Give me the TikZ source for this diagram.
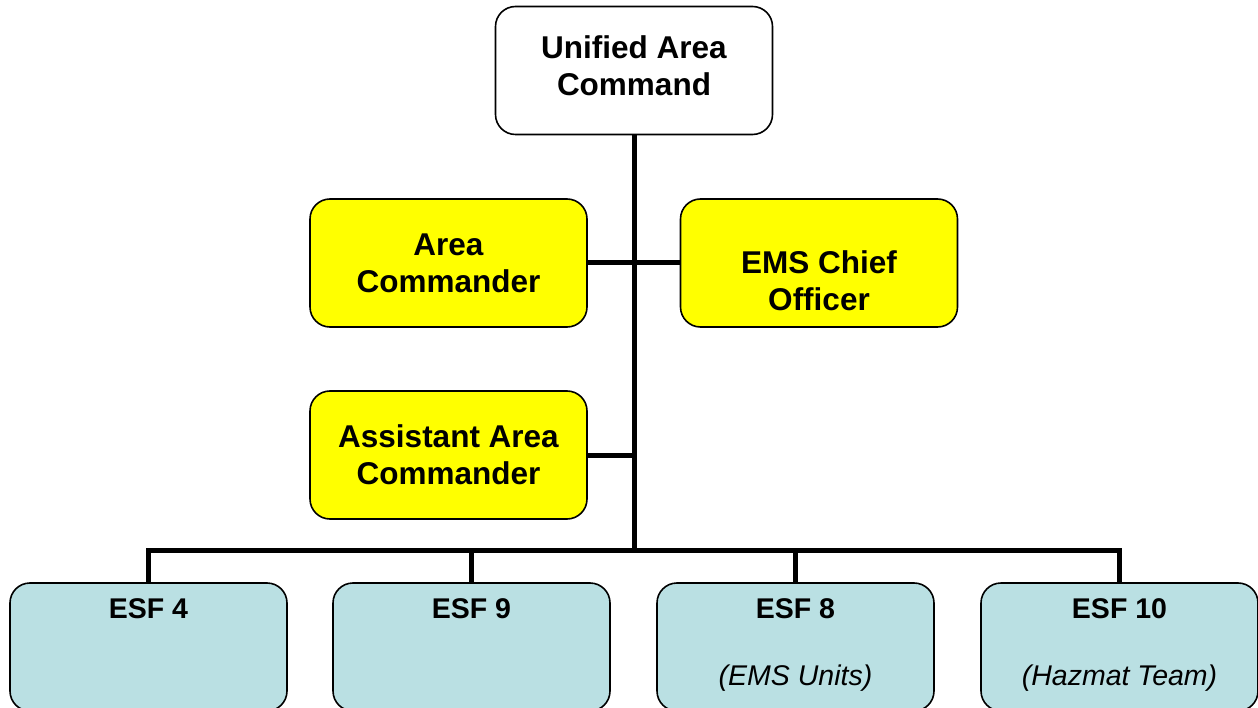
\documentclass[tikz,border=0pt]{standalone}
\usepackage{fontspec}
\setmainfont{Liberation Sans}
\usetikzlibrary{positioning}

\definecolor{chiefyellow}{HTML}{FFFF00}
\definecolor{esfblue}{HTML}{BAE0E3}

\tikzset{
    unitbox/.style={draw, line width=1.6pt, rounded corners=20pt,
        minimum width=277pt, minimum height=128pt, align=center,
        font=\fontsize{31.5}{37}\selectfont\bfseries},
    esfbox/.style={unitbox, fill=esfblue, font=\fontsize{28.5}{34}\selectfont\bfseries},
    link/.style={line width=5pt}
}

\begin{document}
\begin{tikzpicture}[x=1pt, y=-1pt]

\useasboundingbox (0, 0) rectangle (1258, 708);

% command staff
\node[unitbox, fill=white] (unified) at (634, 70.5) {Unified Area\\Command\\[-27pt]\mbox{}};
\node[unitbox, fill=chiefyellow] (area) at (448.5, 263) {Area\\Commander};
\node[unitbox, fill=chiefyellow] (emschief) at (819, 263) {\mbox{}\\[21pt]EMS Chief\\Officer};
\node[unitbox, fill=chiefyellow] (assistant) at (448.5, 455) {Assistant Area\\Commander};

% ESF groups
\foreach \m/\x/\num/\team in {1/148.5/4/, 2/471.5/9/, 3/795.5/8/(EMS Units), 4/1119.5/10/(Hazmat Team)} {
    \node[esfbox] (esf-\m) at (\x, 647) {ESF \num\\[33pt]{\mdseries\itshape\team}\strut};
}

\coordinate (bus) at (634, 550);

% connect the staff with the trunk
\draw[link] (unified.south) -- (bus);
\draw[link] (area.east) -- (emschief.west);
\draw[link] (assistant.east) -- (assistant.east -| bus);

% connect the trunk with the ESF groups
\foreach \l in {1, 2, 3, 4} {
    \draw[link] (bus) -| (esf-\l.north);
}

\end{tikzpicture}
\end{document}
